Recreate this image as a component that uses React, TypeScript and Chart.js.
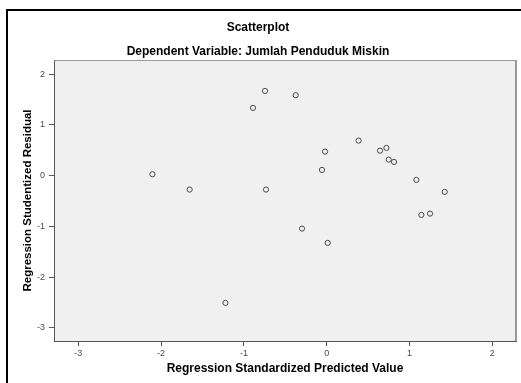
import React, { useEffect, useRef } from "react";
import { Chart, registerables } from "chart.js";

Chart.register(...registerables);

const titleText = "Scatterplot";
const subtitleText = "Dependent Variable: Jumlah Penduduk Miskin";
const xTitle = "Regression Standardized Predicted Value";
const yTitle = "Regression Studentized Residual";

const xTicks = [-3, -2, -1, 0, 1, 2];
const yTicks = [-3, -2, -1, 0, 1, 2];

const predicted = [
  -2.105, -1.655, -1.223, -0.89, -0.745, -0.733, -0.374, -0.298, -0.057, -0.02,
  0.012, 0.385, 0.644, 0.721, 0.749, 0.813, 1.083, 1.143, 1.248, 1.425,
];
const residual = [
  0.027, -0.275, -2.506, 1.333, 1.667, -0.275, 1.583, -1.043, 0.112, 0.472,
  -1.325, 0.689, 0.492, 0.545, 0.315, 0.27, -0.085, -0.774, -0.748, -0.321,
];

const FONT = "'Liberation Sans', Arial, sans-serif";

const framePlugin = {
  id: "frame",
  beforeDraw(chart: any) {
    const { ctx, chartArea } = chart;
    ctx.save();
    ctx.fillStyle = "#ffffff";
    ctx.fillRect(0, 0, chart.width, chart.height);
    ctx.fillStyle = "#f0f0f0";
    ctx.fillRect(chartArea.left, chartArea.top, chartArea.right - chartArea.left, chartArea.bottom - chartArea.top);
    ctx.fillStyle = "#000000";
    ctx.fillRect(6, 9, chart.width - 6, 2);
    ctx.fillRect(6, 9, 2, chart.height - 9);
    ctx.restore();
  },
  afterDraw(chart: any) {
    const { ctx, chartArea } = chart;
    ctx.save();
    ctx.strokeStyle = "#999999";
    ctx.lineWidth = 1;
    ctx.beginPath();
    ctx.moveTo(chartArea.left, chartArea.top + 0.5);
    ctx.lineTo(chartArea.right, chartArea.top + 0.5);
    ctx.stroke();
    ctx.lineWidth = 2;
    ctx.strokeStyle = "#9a9a9a";
    ctx.beginPath();
    ctx.moveTo(chartArea.right, chartArea.top);
    ctx.lineTo(chartArea.right, chartArea.bottom);
    ctx.stroke();
    ctx.restore();
  },
};

export default function App() {
  const ref = useRef<HTMLCanvasElement | null>(null);
  useEffect(() => {
    if (!ref.current) return;
    const chart = new Chart(ref.current, {
      type: "scatter",
      data: {
        datasets: [
          {
            data: predicted.map((x, i) => ({ x, y: residual[i] })),
            pointStyle: "circle",
            pointRadius: 2.6,
            pointBorderWidth: 1,
            pointBorderColor: "#4a4a4a",
            pointBackgroundColor: "rgba(0,0,0,0)",
          },
        ],
      },
      options: {
        animation: false,
        responsive: false,
        devicePixelRatio: 1,
        layout: { padding: { top: 0, left: 0, right: 5, bottom: 0 } },
        plugins: {
          legend: { display: false },
          tooltip: { enabled: false },
          title: {
            display: true,
            text: titleText,
            color: "#000",
            font: { family: FONT, size: 12, weight: "bold" },
            padding: { top: 20.5, bottom: 0 },
          },
          subtitle: {
            display: true,
            text: subtitleText,
            color: "#000",
            font: { family: FONT, size: 12, weight: "bold" },
            padding: { top: 9.4, bottom: 1.3 },
          },
        },
        scales: {
          x: {
            type: "linear",
            min: -3.293,
            max: 2.286,
            afterBuildTicks: (s: any) => {
              s.ticks = xTicks.map((v) => ({ value: v }));
            },
            afterFit: (s: any) => {
              s.height = 42;
            },
            grid: { drawOnChartArea: false, drawTicks: true, tickLength: 5, color: "#555" },
            border: { display: true, color: "#555", width: 1 },
            ticks: {
              color: "#4a4a4a",
              font: { family: FONT, size: 9 },
              padding: 2,
              maxRotation: 0,
              autoSkip: false,
            },
            title: {
              display: true,
              text: xTitle,
              color: "#000",
              font: { family: FONT, size: 12, weight: "bold" },
              padding: { top: 0, bottom: 6.8 },
            },
          },
          y: {
            type: "linear",
            min: -3.256,
            max: 2.276,
            afterBuildTicks: (s: any) => {
              s.ticks = yTicks.map((v) => ({ value: v }));
            },
            afterFit: (s: any) => {
              s.width = 54;
            },
            grid: { drawOnChartArea: false, drawTicks: true, tickLength: 5, color: "#555" },
            border: { display: true, color: "#555", width: 1 },
            ticks: {
              color: "#4a4a4a",
              font: { family: FONT, size: 9 },
              padding: 4,
              autoSkip: false,
            },
            title: {
              display: true,
              text: yTitle,
              color: "#000",
              font: { family: FONT, size: 11.5, weight: "bold" },
              padding: { top: 21.1, bottom: 0 },
            },
          },
        },
      },
      plugins: [framePlugin],
    } as any);
    return () => chart.destroy();
  }, []);
  return (
    <div style={{ position: "fixed", left: 0, top: 0, width: 521, height: 383 }}>
      <canvas ref={ref} width={521} height={383} style={{ width: 521, height: 383, display: "block" }} />
    </div>
  );
}
